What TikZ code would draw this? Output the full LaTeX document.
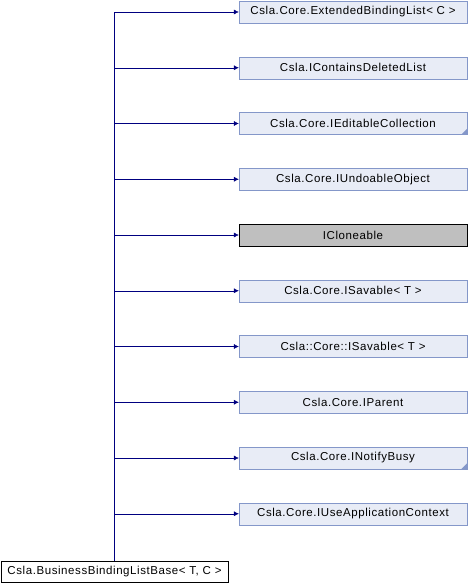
\documentclass[tikz,border=0pt]{standalone}
\usepackage{fontspec}
\setmainfont{Liberation Sans}[LetterSpace=5]
\usetikzlibrary{arrows.meta}
\definecolor{ifacefill}{HTML}{E8ECF6}
\definecolor{ifacedraw}{HTML}{8497C9}
\definecolor{linkblue}{HTML}{000080}
\definecolor{extfill}{HTML}{BFBFBF}

\begin{document}
\begin{tikzpicture}[x=1pt,y=-1pt,
  iface/.style={draw=ifacedraw,fill=ifacefill,minimum width=228pt,minimum height=22pt,inner sep=0pt,font=\fontsize{11.5}{13}\selectfont},
  extern/.style={iface,draw=black,fill=extfill},
  leaf/.style={draw=black,fill=white,minimum width=227pt,minimum height=21pt,inner sep=0pt,font=\fontsize{11.5}{13}\selectfont},
  inherit/.style={draw=linkblue,-{Latex[length=5pt,width=5pt]}}]
\useasboundingbox (0,0) rectangle (468,584);
% objects at depth 100:
\node[iface] (extlist) at (353,12) {Csla.Core.ExtendedBindingList< C >};
\node[iface] (delist) at (353,67.75) {Csla.IContainsDeletedList};
\node[iface] (editcoll) at (353,123.5) {Csla.Core.IEditableCollection};
\node[iface] (undo) at (353,179.25) {Csla.Core.IUndoableObject};
\node[extern] (clone) at (353,235) {ICloneable};
\node[iface] (savable) at (353,290.75) {Csla.Core.ISavable< T >};
\node[iface] (savablecc) at (353,346.5) {Csla::Core::ISavable< T >};
\node[iface] (parent) at (353,402.25) {Csla.Core.IParent};
\node[iface] (busy) at (353,458) {Csla.Core.INotifyBusy};
\node[iface] (appctx) at (353,513.75) {Csla.Core.IUseApplicationContext};
\node[leaf] (base) at (114.5,571.5) {Csla.BusinessBindingListBase< T, C >};
% truncation marks:
\path[fill=ifacedraw] (editcoll.south east) -- ++(-6,0) -- ++(6,-6) -- cycle;
\path[fill=ifacedraw] (busy.south east) -- ++(-6,0) -- ++(6,-6) -- cycle;
% objects at depth 50:
\draw[inherit] (base.north) |- (extlist.west);
\draw[inherit] (base.north) |- (delist.west);
\draw[inherit] (base.north) |- (editcoll.west);
\draw[inherit] (base.north) |- (undo.west);
\draw[inherit] (base.north) |- (clone.west);
\draw[inherit] (base.north) |- (savable.west);
\draw[inherit] (base.north) |- (savablecc.west);
\draw[inherit] (base.north) |- (parent.west);
\draw[inherit] (base.north) |- (busy.west);
\draw[inherit] (base.north) |- (appctx.west);
\end{tikzpicture}
\end{document}
